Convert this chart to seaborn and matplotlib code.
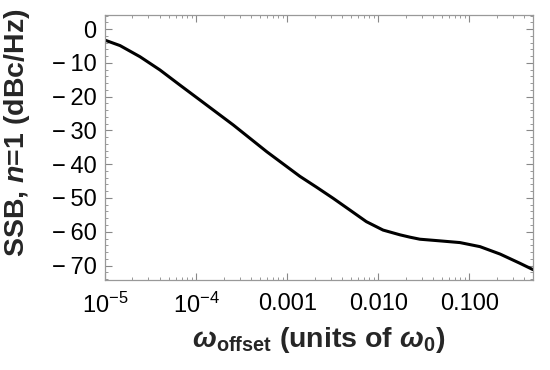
import pandas as pd
import matplotlib
matplotlib.use('Agg')
import matplotlib.pyplot as plt
import matplotlib.ticker as mticker
import seaborn as sns

# values
offset = [1e-5, 1.46e-5, 2.42e-5, 4.0e-5, 6.65e-5, 1.1e-4, 2.56e-4, 5.96e-4,
          1.38e-3, 2.1e-3, 3.2e-3, 4.9e-3, 7.4e-3, 1.13e-2, 1.73e-2, 2.23e-2,
          2.86e-2, 4.8e-2, 7.9e-2, 0.131, 0.218, 0.358, 0.5]
ssb = [-3.3, -4.9, -8.2, -12.1, -16.6, -21.0, -28.4, -36.3,
       -43.6, -46.8, -50.1, -53.6, -57.0, -59.5, -60.9, -61.6,
       -62.2, -62.7, -63.2, -64.4, -66.6, -69.3, -71.2]

x_ticks = [1e-5, 1e-4, 1e-3, 1e-2, 1e-1]
x_labels = [r'$10^{-5}$', r'$10^{-4}$', '0.001', '0.010', '0.100']
y_ticks = [0, -10, -20, -30, -40, -50, -60, -70]
y_labels = ['0' if v == 0 else '\u2212\u2009' + str(-v) for v in y_ticks]

sns.set_theme(style='white')
plt.rcParams['font.family'] = ['Liberation Sans', 'DejaVu Sans']
plt.rcParams['mathtext.fontset'] = 'custom'
plt.rcParams['mathtext.rm'] = 'Liberation Sans'
plt.rcParams['mathtext.it'] = 'Liberation Sans:italic'
plt.rcParams['mathtext.bf'] = 'Liberation Sans:bold'
plt.rcParams['mathtext.bfit'] = 'Liberation Sans:bold:italic'

df = pd.DataFrame({'offset': offset, 'ssb': ssb})

fig = plt.figure(figsize=(5.5, 3.7), dpi=100)
ax = fig.add_axes([0.191, 0.243, 0.778, 0.716])
sns.lineplot(data=df, x='offset', y='ssb', ax=ax, color='black', linewidth=2.2)

ax.set_xscale('log')
ax.set_xlim(1e-5, 0.5)
ax.set_ylim(-74.3, 4.1)
ax.set_xticks(x_ticks)
ax.set_xticklabels(x_labels)
ax.xaxis.set_minor_locator(mticker.LogLocator(base=10, subs=range(2, 10), numticks=20))
ax.xaxis.set_minor_formatter(mticker.NullFormatter())
ax.set_yticks(y_ticks)
ax.set_yticklabels(y_labels)
ax.yaxis.set_minor_locator(mticker.MultipleLocator(2))

ax.tick_params(which='both', direction='in', bottom=True, left=True, top=True, right=True,
               color='#888888', labelsize=17, labelcolor='black')
ax.tick_params(axis='x', pad=9)
ax.tick_params(axis='y', pad=6)
ax.tick_params(which='major', length=5, width=0.8)
ax.tick_params(which='minor', length=2.5, width=0.6)
for sp in ax.spines.values():
    sp.set_color('#999999')
    sp.set_linewidth(0.9)

ax.set_xlabel(r'$\mathbfit{\omega}_{\mathbf{offset}}$ (units of $\mathbfit{\omega}_{\mathbf{0}}$)',
              fontsize=20.5, fontweight='bold', labelpad=5)
ax.set_ylabel(r'SSB, $\mathbfit{n}$=1 (dBc/Hz)', fontsize=20.5, fontweight='bold')
ax.yaxis.set_label_coords(-0.17, 0.555)

fig.savefig('out.png', dpi=100)
